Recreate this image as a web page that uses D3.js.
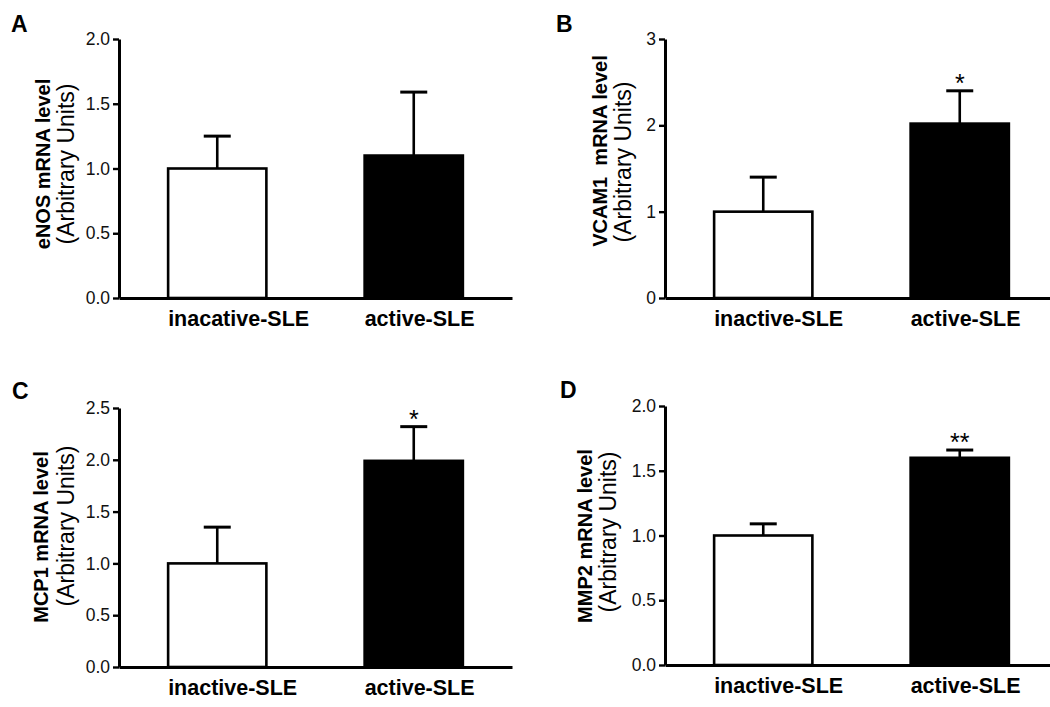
<!DOCTYPE html>
<html>
<head>
<meta charset="utf-8">
<script src="https://cdn.jsdelivr.net/npm/d3@7"></script>
<style>
  body { margin: 0; background: #fff; }
  svg { display: block; font-family: "Liberation Sans", Arial, sans-serif; }
</style>
</head>
<body>
<svg width="1050" height="707"></svg>
<script>
// data
const panelLetters = ['A', 'B', 'C', 'D'];
const yTitles = ['eNOS mRNA level', 'VCAM1  mRNA level', 'MCP1 mRNA level', 'MMP2 mRNA level'];
const yUnits = '(Arbitrary Units)';
const groupLabels = [
  ['inacative-SLE', 'active-SLE'],
  ['inactive-SLE', 'active-SLE'],
  ['inactive-SLE', 'active-SLE'],
  ['inactive-SLE', 'active-SLE']
];
const means = [[1.0, 1.1], [1.0, 2.02], [1.0, 1.99], [1.0, 1.6]];
const errors = [[0.25, 0.49], [0.40, 0.38], [0.35, 0.33], [0.09, 0.06]];
const stars = [['', ''], ['', '*'], ['', '*'], ['', '**']];
const yMax = [2, 3, 2.5, 2];
const yTicks = [
  [0, 0.5, 1, 1.5, 2],
  [0, 1, 2, 3],
  [0, 0.5, 1, 1.5, 2, 2.5],
  [0, 0.5, 1, 1.5, 2]
];
const tickFormats = ['.1f', 'd', '.1f', '.1f'];

// layout of each panel
const layout = [
  { ax: 119, top: 39, bottom: 298, letterX: 11, letterY: 32, titleDx: -69, unitDx: -45, titleY: 164, unitY: 164 },
  { ax: 665, top: 39, bottom: 298, letterX: 556, letterY: 32, titleDx: -58, unitDx: -34, titleY: 151, unitY: 162 },
  { ax: 119, top: 408, bottom: 667, letterX: 12, letterY: 399, titleDx: -71, unitDx: -45, titleY: 537, unitY: 526 },
  { ax: 665, top: 406, bottom: 665, letterX: 560, letterY: 398, titleDx: -73, unitDx: -49, titleY: 536, unitY: 532 }
];
const axisLen = 393;
const fills = ['#fff', '#000'];

const svg = d3.select('svg');
svg.append('rect').attr('width', 1050).attr('height', 707).attr('fill', '#fff');

panelLetters.forEach((letter, p) => {
  const L = layout[p];
  const g = svg.append('g');

  const x = d3.scaleBand()
    .domain(groupLabels[p])
    .range([L.ax, L.ax + axisLen])
    .paddingInner(0.5)
    .paddingOuter(0.25);

  const y = d3.scaleLinear()
    .domain([0, yMax[p]])
    .range([L.bottom, L.top]);

  // panel letter
  g.append('text')
    .attr('x', L.letterX)
    .attr('y', L.letterY)
    .attr('font-size', 23)
    .attr('font-weight', 'bold')
    .text(letter);

  // y axis titles
  g.append('text')
    .attr('transform', `translate(${L.ax + L.titleDx}, ${L.titleY}) rotate(-90)`)
    .attr('text-anchor', 'middle')
    .attr('font-size', 20)
    .attr('font-weight', 'bold')
    .style('white-space', 'pre')
    .text(yTitles[p]);

  g.append('text')
    .attr('transform', `translate(${L.ax + L.unitDx}, ${L.unitY}) rotate(-90)`)
    .attr('text-anchor', 'middle')
    .attr('font-size', 23)
    .text(yUnits);

  // bars
  const data = groupLabels[p].map((name, i) => ({
    name, mean: means[p][i], err: errors[p][i], star: stars[p][i], fill: fills[i]
  }));

  g.selectAll('rect.bar')
    .data(data)
    .enter()
    .append('rect')
    .attr('class', 'bar')
    .attr('x', d => x(d.name))
    .attr('y', d => y(d.mean))
    .attr('width', x.bandwidth())
    .attr('height', d => y(0) - y(d.mean))
    .attr('fill', d => d.fill)
    .attr('stroke', '#000')
    .attr('stroke-width', 2.6);

  // error bars (upper only)
  const cx = d => x(d.name) + x.bandwidth() / 2;
  g.selectAll('line.err')
    .data(data)
    .enter()
    .append('line')
    .attr('x1', cx)
    .attr('x2', cx)
    .attr('y1', d => y(d.mean))
    .attr('y2', d => y(d.mean + d.err))
    .attr('stroke', '#000')
    .attr('stroke-width', 2.6);

  g.selectAll('line.cap')
    .data(data)
    .enter()
    .append('line')
    .attr('x1', d => cx(d) - 13.5)
    .attr('x2', d => cx(d) + 13.5)
    .attr('y1', d => y(d.mean + d.err))
    .attr('y2', d => y(d.mean + d.err))
    .attr('stroke', '#000')
    .attr('stroke-width', 3);

  g.selectAll('text.star')
    .data(data.filter(d => d.star))
    .enter()
    .append('text')
    .attr('x', cx)
    .attr('y', d => y(d.mean + d.err) + 1)
    .attr('text-anchor', 'middle')
    .attr('font-size', 25)
    .text(d => d.star);

  // axes
  const yAxis = d3.axisLeft(y)
    .tickValues(yTicks[p])
    .tickSize(6)
    .tickSizeOuter(0)
    .tickPadding(3)
    .tickFormat(d3.format(tickFormats[p]));

  const ya = g.append('g')
    .attr('transform', `translate(${L.ax}, 0)`)
    .call(yAxis);
  ya.select('.domain').attr('stroke-width', 3);
  ya.selectAll('.tick line').attr('stroke-width', 2.4);
  ya.selectAll('.tick text')
    .attr('font-size', 17.5)
    .attr('font-family', '"Liberation Sans", Arial, sans-serif')
    .attr('fill', '#111');

  const xAxis = d3.axisBottom(x)
    .tickSize(0)
    .tickSizeOuter(0)
    .tickPadding(0);

  const xa = g.append('g')
    .attr('transform', `translate(0, ${L.bottom})`)
    .call(xAxis);
  xa.select('.domain').attr('stroke-width', 3);
  xa.selectAll('.tick text')
    .attr('x', -x.bandwidth() / 2)
    .attr('y', 28)
    .attr('dy', 0)
    .attr('text-anchor', 'start')
    .attr('font-size', 21.5)
    .attr('font-weight', 'bold')
    .attr('font-family', '"Liberation Sans", Arial, sans-serif')
    .attr('fill', '#000');
});
</script>
</body>
</html>
